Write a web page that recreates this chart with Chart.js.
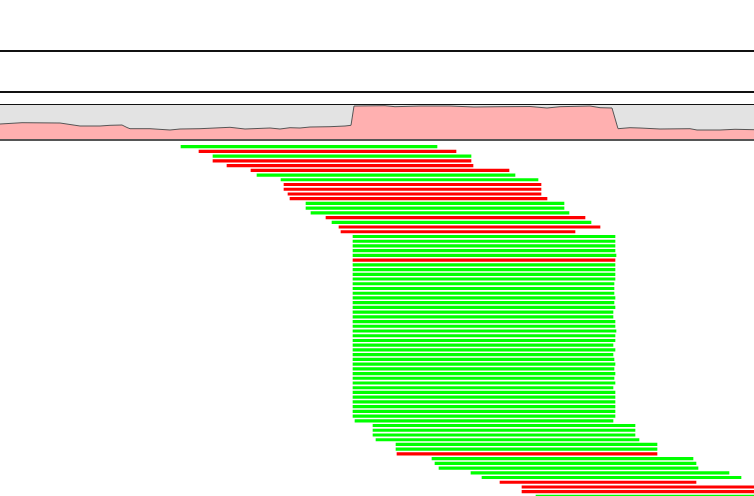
<!DOCTYPE html>
<html>
<head>
<meta charset="utf-8">
<script src="https://cdn.jsdelivr.net/npm/chart.js@4/dist/chart.umd.min.js"></script>
<style>
  body { margin: 0; background: #fff; }
  #wrap { position: relative; width: 754px; height: 496px; overflow: hidden; }
  .sep { position: absolute; left: 0; width: 754px; height: 2px; background: #111; }
  #covBox { position: absolute; left: 0; top: 104px; width: 754px; height: 34px;
            border-top: 1px solid #111; border-bottom: 2px solid #555; background: #e3e3e3; }
  #covBox canvas, #reads { position: absolute; left: 0; top: 0; }
  #readBox { position: absolute; left: 0; top: 140px; width: 754px; height: 356px; }
</style>
</head>
<body>
<div id="wrap">
  <div class="sep" style="top:50px"></div>
  <div class="sep" style="top:91px"></div>
  <div id="covBox"><canvas id="cov" width="754" height="34"></canvas></div>
  <div id="readBox"><canvas id="reads" width="754" height="356"></canvas></div>
</div>
<script>
// coverage track: position and depth
var covPos = [0, 17, 22, 60, 80, 100, 110, 122, 127, 130, 150, 170, 180, 200, 230, 245, 270, 280, 290, 300,
  310, 330, 345, 351, 354, 385, 395, 420, 450, 474, 500, 530, 547, 560, 590, 600, 612, 618, 630, 640,
  660, 690, 697, 720, 735, 754];
var covDepth = [15, 16, 16.3, 16, 13, 13, 13.7, 14, 11.5, 10.3, 10.3, 9, 10, 10.3, 11.7, 10, 11, 10, 11.3, 11,
  12, 12.3, 13, 13.7, 33, 33.3, 32.3, 33, 33, 32, 32.3, 32.5, 31, 32.3, 33, 31.3, 31, 10.3, 11.3, 11,
  10, 10.3, 9, 9, 9.7, 9.3];

// reads, one per row (row = index + 1)
var readStart = [181, 199, 213, 213, 227, 251, 257, 281, 284, 284, 288, 290, 306, 306, 311, 326, 332, 339, 341,
  353, 353, 353, 353, 353, 353, 353, 353, 353, 353, 353, 353, 353, 353, 353, 353, 353, 353, 353, 353, 353,
  353, 353, 353, 353, 353, 353, 353, 353, 353, 353, 353, 353, 353, 353, 353, 353, 353, 353, 355,
  373, 373, 373, 376, 396, 396, 397, 432, 435, 439, 471, 482, 500, 522, 522, 536];
var readEnd = [437, 456, 471, 471, 473, 509, 515, 538, 541, 541, 541, 547, 564, 564, 569, 585, 591, 600, 575,
  615, 615, 615, 615, 616, 615, 615, 615, 615, 615, 614, 614, 614, 615, 614, 615, 613, 613, 615, 615, 616,
  615, 615, 613, 615, 613, 614, 615, 614, 615, 614, 615, 613, 615, 615, 615, 615, 615, 615, 613,
  635, 635, 635, 639, 657, 657, 657, 693, 696, 698, 729, 741, 696, 760, 760, 760];
var readStrand = ['+', '-', '+', '-', '-', '-', '+', '+', '-', '-', '-', '-', '+', '+', '+', '-', '+', '-', '-',
  '+', '+', '+', '+', '+', '-', '+', '+', '+', '+', '+', '+', '+', '+', '+', '+', '+', '+', '+', '+', '+',
  '+', '+', '+', '+', '+', '+', '+', '+', '+', '+', '+', '+', '+', '+', '+', '+', '+', '+', '+',
  '+', '+', '+', '+', '+', '+', '-', '+', '+', '+', '+', '+', '-', '-', '-', '+'];

var strandColor = { '+': '#00ff00', '-': '#ff0000' };

var hidden = { display: false };

var covPoints = [];
for (let i = 0; i < covPos.length; i++) {
  covPoints.push({ x: covPos[i], y: covDepth[i] });
}

new Chart(document.getElementById('cov'), {
  type: 'line',
  data: {
    datasets: [{
      data: covPoints,
      borderColor: '#555',
      borderWidth: 1,
      backgroundColor: '#ffb0b0',
      fill: 'origin',
      pointRadius: 0,
      tension: 0
    }]
  },
  options: {
    responsive: false,
    animation: false,
    layout: { padding: 0 },
    plugins: { legend: hidden, tooltip: { enabled: false } },
    scales: {
      x: { type: 'linear', min: 0, max: 754, display: false },
      y: { min: 0, max: 34, display: false }
    }
  }
});

var readPoints = [];
var readColors = [];
for (let i = 0; i < readStart.length; i++) {
  readPoints.push({ y: i + 1, x: [readStart[i], readEnd[i]] });
  readColors.push(strandColor[readStrand[i]]);
}

new Chart(document.getElementById('reads'), {
  type: 'bar',
  data: {
    datasets: [{
      data: readPoints,
      backgroundColor: readColors,
      barThickness: 2.5,
      borderWidth: 0,
      borderSkipped: false
    }]
  },
  options: {
    indexAxis: 'y',
    responsive: false,
    animation: false,
    layout: { padding: 0 },
    plugins: { legend: hidden, tooltip: { enabled: false } },
    scales: {
      x: { type: 'linear', min: 0, max: 754, display: false },
      y: { type: 'linear', reverse: true, offset: false, min: -0.418, max: 74.91, display: false }
    }
  }
});
</script>
</body>
</html>
